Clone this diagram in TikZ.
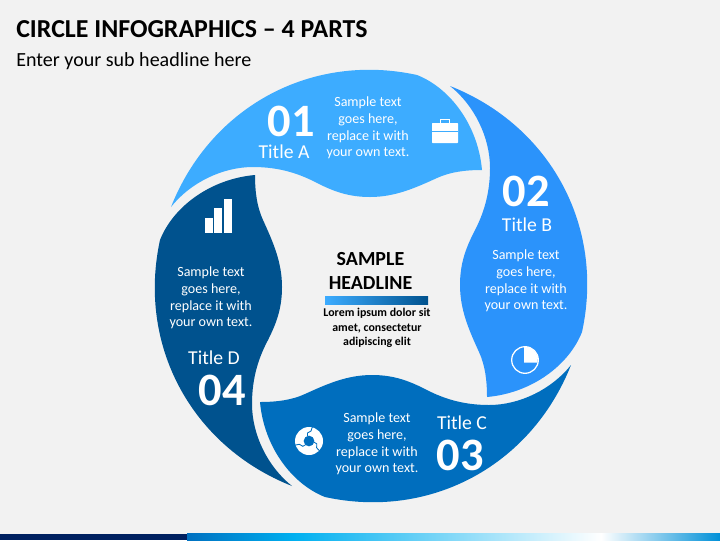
\documentclass[tikz,border=0pt]{standalone}
\usepackage{fontspec}
\setmainfont{Carlito}
\definecolor{bgpage}{RGB}{242,242,242}
\definecolor{partA}{RGB}{61,172,255}
\definecolor{partB}{RGB}{43,147,251}
\definecolor{partC}{RGB}{0,110,190}
\definecolor{partD}{RGB}{0,82,142}
\definecolor{navy}{RGB}{0,32,96}
\definecolor{stripA}{RGB}{0,112,192}
\definecolor{stripB}{RGB}{0,176,240}
\definecolor{stripC}{RGB}{0,144,216}
\tikzset{
    numtxt/.style={text=white,font=\fontsize{33}{33}\selectfont\bfseries,inner sep=0pt,text depth=0pt},
    titletxt/.style={text=white,font=\fontsize{14}{16}\selectfont,inner sep=0pt},
    bodytxt/.style={text=white,font=\fontsize{10}{11.9}\selectfont,align=center,inner sep=0pt},
    icon/.style={fill=white,draw=none}
}
\newcommand{\petalpath}{(171,207) .. controls (210.7,106.6) and (311.5,52) .. (417,75)
    .. controls (450,88) and (478,125) .. (482,170)
    .. controls (465,170) and (450,172) .. (437,178)
    .. controls (415,188) and (395,197) .. (370,197)
    .. controls (348,197) and (333,191) .. (317,183)
    .. controls (300,174) and (280,167) .. (253,167)
    .. controls (222,167) and (190,183) .. (171,207) -- cycle}
\begin{document}
\begin{tikzpicture}[x=0.025cm,y=-0.025cm]
    \fill[bgpage] (0,0) rectangle (720,540);
    \useasboundingbox (0,0) rectangle (720,540);
    \fill[navy] (0,533.5) rectangle (187,540);
    \shade[left color=stripA,right color=stripB] (187,533.5) rectangle (294,540);
    \shade[left color=stripB,right color=white] (294,533.5) rectangle (601,540);
    \shade[left color=white,right color=stripC] (601,533.5) rectangle (720,540);
    \coordinate (cen) at (371,286);
    \foreach \ang/\col in {0/partA,-90/partB,-180/partC,-270/partD}
        \fill[\col,rotate around={\ang:(cen)}] \petalpath;
    \node[anchor=base west,inner sep=0pt,font=\fontsize{18.4}{20}\selectfont\bfseries] (headline) at (16,37) {CIRCLE INFOGRAPHICS -- 4 PARTS};
    \node[anchor=base west,inner sep=0pt,font=\fontsize{14.25}{16}\selectfont] (subhead) at (16,66) {Enter your sub headline here};
    \node[numtxt] (numA) at (291,121) {01};
    \node[titletxt] (titleA) at (284,151.7) {Title A};
    \node[bodytxt] (bodyA) at (368,128) {Sample text\\goes here,\\replace it with\\your own text.};
    \node[numtxt] (numB) at (526,191) {02};
    \node[titletxt] (titleB) at (527,224.7) {Title B};
    \node[bodytxt] (bodyB) at (526,281) {Sample text\\goes here,\\replace it with\\your own text.};
    \node[titletxt] (titleC) at (462,422.7) {Title C};
    \node[numtxt] (numC) at (460,455) {03};
    \node[bodytxt] (bodyC) at (377,444) {Sample text\\goes here,\\replace it with\\your own text.};
    \node[bodytxt] (bodyD) at (211,298) {Sample text\\goes here,\\replace it with\\your own text.};
    \node[titletxt] (titleD) at (214,357.7) {Title D};
    \node[numtxt] (numD) at (222,390) {04};
    \node[inner sep=0pt,align=center,font=\fontsize{14.2}{17}\selectfont\bfseries] (samplehead) at (370.5,271) {SAMPLE\\HEADLINE};
    \shade[left color=partA,right color=partD] (325,296) rectangle (428,304);
    \node[inner sep=0pt,align=center,font=\fontsize{8.45}{10.4}\selectfont\bfseries] (lorem) at (377,328) {Lorem ipsum dolor sit\\amet, consectetur\\adipiscing elit};
    \fill[icon,rounded corners=0.5] (432,123) rectangle (458,143);
    \draw[white,line width=0.7pt] (440.5,123) -- (440.5,119) -- (449.5,119) -- (449.5,123);
    \draw[partA,line width=0.4pt] (432,131) -- (458,131);
    \fill[icon] (205.3,218.3) rectangle (213.3,232.7);
    \fill[icon] (214.3,208.3) rectangle (222.3,232.7);
    \fill[icon] (223.7,199.3) rectangle (231.7,232.7);
    \draw[white,line width=0.9pt] (525,360) circle (13.3);
    \fill[icon] (524,362.7) -- (524,347) arc[start angle=-94.4,end angle=12,radius=13] -- cycle;
    \fill[icon,even odd rule] (309,441) circle (14) (309,441) circle (5.5);
    \foreach \rot in {0,120,240}
        \draw[partC,line width=0.6pt,rotate around={\rot:(309,441)}] (312.5,426.5) -- (311,431) -- (307.5,433) -- (307.5,436);
\end{tikzpicture}
\end{document}
